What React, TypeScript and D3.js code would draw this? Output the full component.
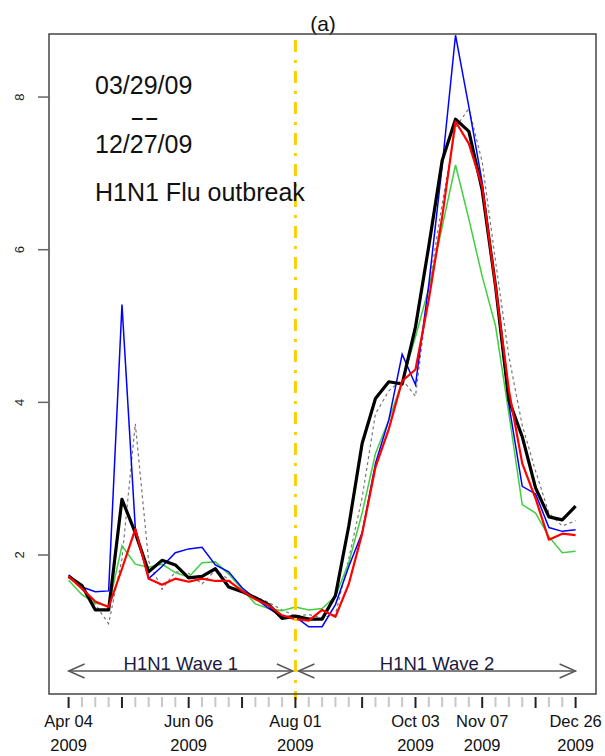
import React from "react";
import * as d3 from "d3";

// Weekly values, Apr 04 2009 .. Dec 26 2009 (39 weeks)
const blackSeries = [1.72, 1.60, 1.28, 1.28, 2.73, 2.29, 1.78, 1.93, 1.87, 1.70, 1.72, 1.82, 1.58, 1.52, 1.44, 1.35, 1.17, 1.20, 1.16, 1.16, 1.47, 2.38, 3.46, 4.05, 4.27, 4.24, 4.99, 6.05, 7.17, 7.71, 7.55, 6.78, 5.52, 4.03, 3.55, 2.88, 2.50, 2.46, 2.64];
const blueSeries = [1.74, 1.58, 1.52, 1.53, 5.28, 2.35, 1.69, 1.85, 2.03, 2.08, 2.10, 1.87, 1.78, 1.57, 1.43, 1.30, 1.19, 1.19, 1.06, 1.06, 1.35, 1.85, 2.29, 3.20, 3.77, 4.63, 4.23, 5.55, 7.10, 8.81, 7.87, 6.88, 5.50, 3.97, 2.90, 2.80, 2.36, 2.31, 2.33];
const greenSeries = [1.67, 1.48, 1.37, 1.33, 2.12, 1.88, 1.84, 1.88, 1.77, 1.71, 1.90, 1.91, 1.75, 1.55, 1.36, 1.30, 1.27, 1.32, 1.28, 1.30, 1.46, 1.90, 2.55, 3.33, 3.77, 4.27, 4.86, 5.50, 6.30, 7.11, 6.40, 5.65, 5.00, 3.85, 2.66, 2.55, 2.24, 2.03, 2.05];
const redSeries = [1.72, 1.56, 1.39, 1.32, 1.82, 2.34, 1.69, 1.61, 1.69, 1.65, 1.69, 1.66, 1.66, 1.53, 1.42, 1.34, 1.21, 1.16, 1.14, 1.28, 1.19, 1.62, 2.28, 3.15, 3.65, 4.28, 4.43, 5.35, 6.43, 7.68, 7.39, 6.83, 5.52, 4.16, 3.20, 2.74, 2.20, 2.28, 2.26];
const graySeries = [1.72, 1.55, 1.35, 1.10, 1.95, 3.72, 1.92, 1.55, 1.78, 1.76, 1.62, 1.80, 1.68, 1.52, 1.45, 1.38, 1.28, 1.20, 1.22, 1.18, 1.22, 1.95, 2.75, 3.85, 4.15, 4.30, 4.08, 5.50, 6.60, 7.60, 7.85, 7.15, 5.85, 4.60, 3.70, 3.10, 2.55, 2.38, 2.45];

const yTicks = [2, 4, 6, 8];
const majorTickWeeks = [0, 4, 9, 13, 17, 22, 26, 31, 35, 38];
const labelWeeks = [0, 9, 17, 26, 31, 38];
const labelDates = ["Apr 04", "Jun 06", "Aug 01", "Oct 03", "Nov 07", "Dec 26"];
const labelYear = "2009";
const splitWeek = 17;
const waveLabels = ["H1N1 Wave 1", "H1N1 Wave 2"];
const noteLines = ["03/29/09", "--", "12/27/09", "H1N1 Flu outbreak"];
const title = "(a)";

const FONT = "'Liberation Sans', Arial, Helvetica, sans-serif";

export default function App() {
  const W = 605, H = 756;
  const L = 49, R = 596, T = 34, B = 694;
  const nWeeks = blackSeries.length;
  const x = d3.scaleLinear().domain([0, nWeeks - 1]).range([68.6, 575.6]);
  const y = d3.scaleLinear().domain([0.179, 8.826]).range([B, T]);
  const line = d3.line<number>().x((_, i) => x(i)).y((d) => y(d));
  const allWeeks = d3.range(nWeeks);
  const minorWeeks = allWeeks.filter((w) => !majorTickWeeks.includes(w));
  const arrowY = 671;
  const head = (x0: number, dir: number) => {
    const len = 16, spread = 7;
    return `M${x0 + dir * len},${arrowY - spread}L${x0},${arrowY}L${x0 + dir * len},${arrowY + spread}`;
  };
  const xs = x(splitWeek);
  const w1a = x(0), w1b = xs - 2.5, w2a = xs + 3, w2b = x(nWeeks - 1);

  return (
    <svg width={W} height={H} style={{ position: "absolute", left: 0, top: 0, background: "#fff" }} fontFamily={FONT}>
      <rect x={0} y={0} width={W} height={H} fill="#fff" />
      {/* title */}
      <text x={323} y={31} fontSize={21} textAnchor="middle" fill="#111">{title}</text>

      {/* series */}
      <path d={line(graySeries) || ""} fill="none" stroke="#777" strokeWidth={1.2} strokeDasharray="3,3" />
      <path d={line(greenSeries) || ""} fill="none" stroke="#3fcf3f" strokeWidth={1.5} />
      <path d={line(blueSeries) || ""} fill="none" stroke="#0000ff" strokeWidth={1.5} />
      <path d={line(blackSeries) || ""} fill="none" stroke="#000" strokeWidth={3.2} strokeLinejoin="round" />
      <path d={line(redSeries) || ""} fill="none" stroke="#ff0000" strokeWidth={2.2} strokeLinejoin="round" />

      {/* split line */}
      <line x1={xs} x2={xs} y1={T + 6} y2={B + 6} stroke="#ffd000" strokeWidth={3} strokeDasharray="12,8,3,8" />

      {/* wave arrows */}
      <g stroke="#555" strokeWidth={1.4} fill="none">
        <line x1={w1a} x2={w1b} y1={arrowY} y2={arrowY} />
        <path d={head(w1a, 1)} />
        <path d={head(w1b, -1)} />
        <line x1={w2a} x2={w2b} y1={arrowY} y2={arrowY} />
        <path d={head(w2a, 1)} />
        <path d={head(w2b, -1)} />
      </g>
      <text x={(w1a + w1b) / 2} y={670} fontSize={18.5} textAnchor="middle" fill="#1a1a40">{waveLabels[0]}</text>
      <text x={(w2a + w2b) / 2} y={670} fontSize={18.5} textAnchor="middle" fill="#1a1a40">{waveLabels[1]}</text>

      {/* annotation */}
      <g fontSize={25} fill="#111">
        <text x={95} y={94}>{noteLines[0]}</text>
        <text x={130} y={126} textLength={29} lengthAdjust="spacingAndGlyphs">{noteLines[1]}</text>
        <text x={95} y={153}>{noteLines[2]}</text>
        <text x={95} y={201}>{noteLines[3]}</text>
      </g>

      {/* box */}
      <rect x={L} y={T} width={R - L} height={B - T} fill="none" stroke="#444" strokeWidth={1.5} />

      {/* y axis */}
      {yTicks.map((t) => (
        <g key={t}>
          <line x1={38} x2={L} y1={y(t)} y2={y(t)} stroke="#666" strokeWidth={1.5} />
          <text transform={`translate(24,${y(t)}) rotate(-90)`} fontSize={13} textAnchor="middle" fill="#222">{t}</text>
        </g>
      ))}

      {/* x axis ticks */}
      {minorWeeks.map((w) => (
        <line key={"m" + w} x1={x(w)} x2={x(w)} y1={B + 3} y2={B + 13} stroke="#c8c8c8" strokeWidth={2} />
      ))}
      {majorTickWeeks.map((w) => (
        <line key={"M" + w} x1={x(w)} x2={x(w)} y1={B + 3} y2={B + 14} stroke="#222" strokeWidth={2} />
      ))}
      {labelWeeks.map((w, i) => (
        <g key={"l" + w} fontSize={16.5} textAnchor="middle" fill="#111">
          <text x={x(w)} y={727}>{labelDates[i]}</text>
          <text x={x(w)} y={751}>{labelYear}</text>
        </g>
      ))}
    </svg>
  );
}
